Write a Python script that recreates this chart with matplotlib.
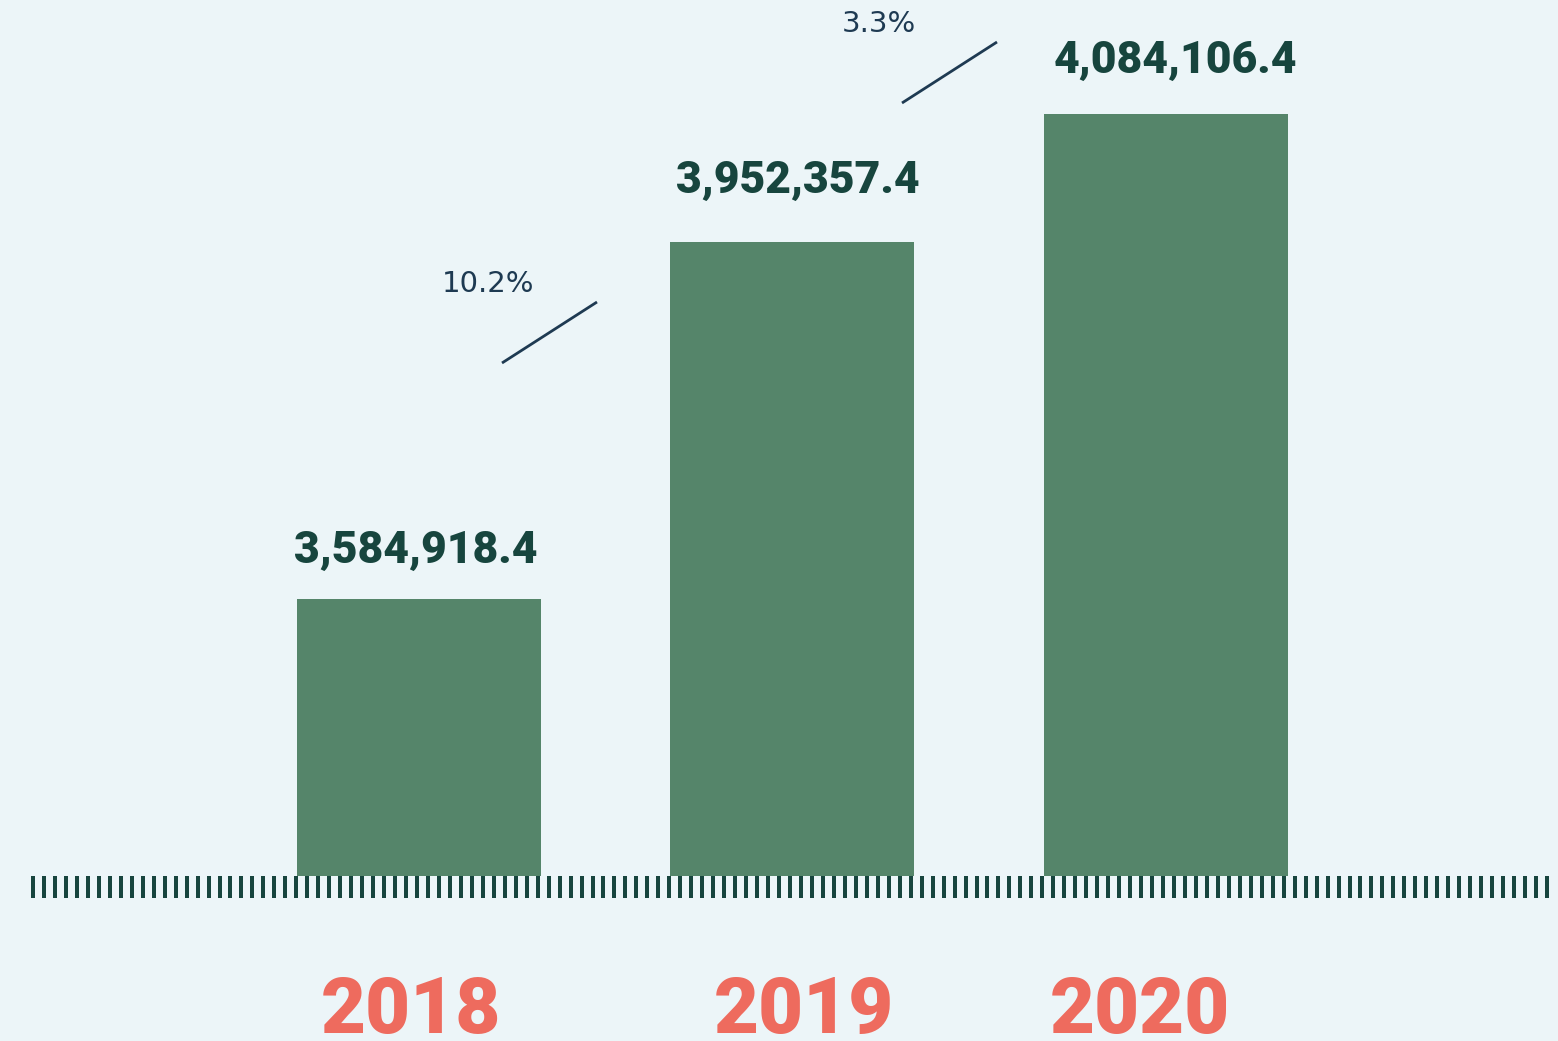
import numpy as np
import matplotlib
matplotlib.use("Agg")
import matplotlib.pyplot as plt
from matplotlib.lines import Line2D

# ---- data ----
years = ["2018", "2019", "2020"]
values = [3584918.4, 3952357.4, 4084106.4]
baseline = 3300000.0

# ---- style ----
W, H = 1558, 1041
BG = "#ECF5F8"
BAR = "#55856A"
DARK = "#17453E"
SALMON = "#EE6B5E"
NAVY = "#1E3A52"

fig = plt.figure(figsize=(W / 100, H / 100), dpi=100, facecolor=BG)
ax = fig.add_axes([0, 0, 1, 1])
ax.set_facecolor(BG)

px_per_cat = 373.5
x0_px = 419.0
val_per_px = 1029.0
base_px_from_bottom = H - 876
ax.set_xlim(-x0_px / px_per_cat, (W - x0_px) / px_per_cat)
ax.set_ylim(baseline - base_px_from_bottom * val_per_px,
            baseline + (H - base_px_from_bottom) * val_per_px)
ax.axis("off")

x = np.arange(len(years))
heights = [v - baseline for v in values]
ax.bar(x, heights, bottom=baseline, width=244 / px_per_cat, color=BAR, zorder=2)

# value labels
label_gap_px = [36, 49, 41]
label_dx_px = [-3, 5, 9]
for i, v in enumerate(values):
    ax.annotate(f"{v:,.1f}", xy=(x[i], v), xytext=(label_dx_px[i], label_gap_px[i]),
                textcoords="offset pixels", ha="center", va="baseline",
                fontsize=32, fontweight="black", family=["Roboto", "DejaVu Sans"],
                color=DARK)

# year labels
year_dx_px = [-8, 11, -26]
for i, y in enumerate(years):
    ax.annotate(y, xy=(x[i], baseline), xytext=(year_dx_px[i], -(1033 - 876)),
                textcoords="offset pixels", ha="center", va="baseline",
                fontsize=56, fontweight="black", family=["Roboto", "DejaVu Sans"],
                color=SALMON)

# tick-mark strip along the baseline
def fx(px):
    return px / W

def fy(py):
    return 1 - py / H

tick_x = np.linspace(33, 1547, 139)
for tx in tick_x:
    fig.add_artist(Line2D([fx(tx), fx(tx)], [fy(876), fy(898)], transform=fig.transFigure,
                          color=DARK, lw=4 * 0.72, solid_capstyle="butt", zorder=1))

# growth annotations
text_pos_px = [(488, 284), (879, 24)]
line_pos_px = [((502, 363), (597, 302)), ((902, 103), (997, 42))]
for i in range(len(values) - 1):
    pct = (values[i + 1] / values[i] - 1) * 100
    tx, ty = text_pos_px[i]
    fig.text(fx(tx), fy(ty), f"{pct:.1f}%", ha="center", va="center",
             fontsize=21, family=["DejaVu Sans"], color=NAVY)
    (ax1, ay1), (ax2, ay2) = line_pos_px[i]
    fig.add_artist(Line2D([fx(ax1), fx(ax2)], [fy(ay1), fy(ay2)], transform=fig.transFigure,
                          color=NAVY, lw=2.0, solid_capstyle="butt"))

fig.savefig("out.png", dpi=100, facecolor=BG)
